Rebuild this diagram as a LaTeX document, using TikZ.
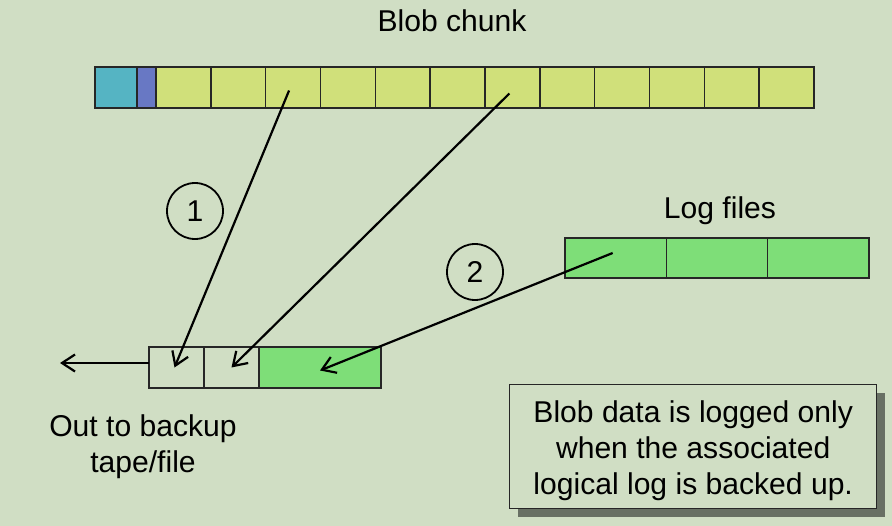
\documentclass[tikz,border=0pt]{standalone}
\usepackage{fontspec}
\setmainfont{Liberation Sans}
\usetikzlibrary{arrows.meta}
\definecolor{bg}{RGB}{208,222,196}
\definecolor{cyanc}{RGB}{85,180,195}
\definecolor{bluec}{RGB}{104,120,196}
\definecolor{yelc}{RGB}{208,224,122}
\definecolor{grnc}{RGB}{126,222,120}
\definecolor{shadc}{RGB}{104,112,100}
\tikzset{
  cell/.style={draw=black!85, line width=1.4bp, inner sep=0pt, outer sep=0pt, minimum height=41bp, anchor=north west},
  ycell/.style={cell, fill=yelc, minimum width=54.83bp},
  lcell/.style={cell, fill=grnc, minimum width=101.3bp, minimum height=40bp},
  arr/.style={line width=2.2bp, -{Straight Barb[length=13bp,width=17bp,line width=2.2bp]}},
  lbl/.style={font=\fontsize{30.2}{36}\selectfont, inner sep=0pt, align=center},
  num/.style={draw, circle, line width=1.8bp, minimum size=56bp, inner sep=0pt, font=\fontsize{30.2}{36}\selectfont}
}
\begin{document}
\begin{tikzpicture}[x=1bp,y=-1bp]
\fill[bg] (0,0) rectangle (892,526);
\useasboundingbox (0,0) rectangle (892,526);
% Blob chunk
\node[lbl] (title) at (452,21) {Blob chunk};
\node[cell, fill=cyanc, minimum width=42bp] (c0) at (95,67) {};
\node[cell, fill=bluec, minimum width=19bp] (cb) at (137,67) {};
\foreach \i in {1,...,12} {
  \node[ycell] (c\i) at ({156+(\i-1)*54.83},67) {};
}
% Log files
\node[lbl] (logt) at (720,211) {Log files};
\node[lcell] (l1) at (565,238) {};
\node[lcell] (l2) at (666.3,238) {};
\node[lcell] (l3) at (767.6,238) {};
% backup buffer
\node[cell, fill=bg, minimum width=55bp] (b1) at (149,347) {};
\node[cell, fill=bg, minimum width=55bp] (b2) at (204,347) {};
\node[cell, fill=grnc, minimum width=122bp] (b3) at (259,347) {};
\coordinate (out) at (60,363);
\node[lbl] (outl) at (143,447) {Out to backup\\tape/file};
% circles
\node[num] (n1) at (195,211) {1};
\node[num] (n2) at (475,272) {2};
% arrows
\draw[arr] ([xshift=-4bp,yshift=-3bp]c3.center) -- ([xshift=-2bp]b1.center);
\draw[arr] ([xshift=-3bp,yshift=-6bp]c7.center) -- (b2.center);
\draw[arr] ([xshift=-3bp,yshift=5bp]l1.center) -- ([yshift=-3bp]b3.center);
\draw[arr] (b1.west |- out) -- (out);
% note box
\fill[shadc] (518,393) rectangle (885,517);
\node[draw=black!85, line width=1.4bp, fill=bg, minimum width=367bp, minimum height=124bp, anchor=north west, inner sep=0pt] (note) at (509,384) {};
\node[lbl] (notet) at ([yshift=-4bp]note.center) {Blob data is logged only\\when the associated\\logical log is backed up.};
\end{tikzpicture}
\end{document}
